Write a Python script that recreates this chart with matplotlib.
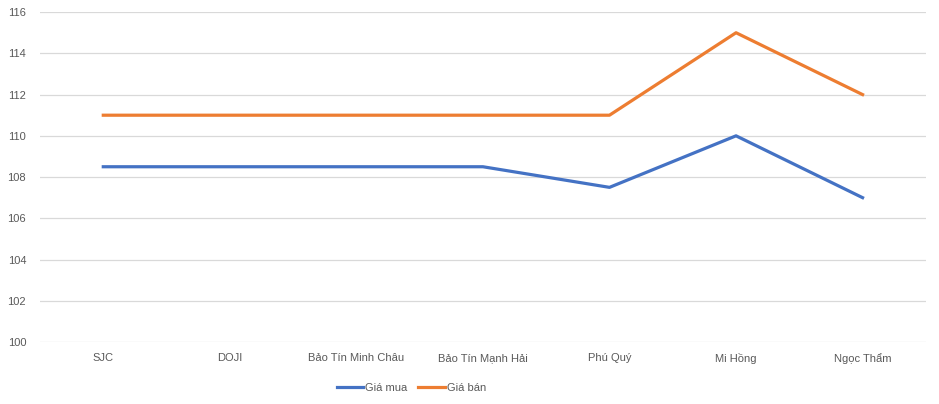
import matplotlib.pyplot as plt

# data
categories = ["SJC", "DOJI", "Bảo Tín Minh Châu", "Bảo Tín Mạnh Hải", "Phú Quý", "Mi Hồng", "Ngọc Thẩm"]
gia_mua = [108.5, 108.5, 108.5, 108.5, 107.5, 110, 107]
gia_ban = [111, 111, 111, 111, 111, 115, 112]
yticks = [100, 102, 104, 106, 108, 110, 112, 114, 116]

plt.rcParams['font.family'] = ['Liberation Sans', 'DejaVu Sans']

fig = plt.figure(figsize=(9.39, 4.04), dpi=100)
ax = fig.add_axes([0.0426, 0.1535, 0.9434, 0.8165])

x = list(range(len(categories)))
ax.plot(x, gia_mua, color='#4472C4', lw=2.3, label='Giá mua', solid_joinstyle='round')
ax.plot(x, gia_ban, color='#ED7D31', lw=2.3, label='Giá bán', solid_joinstyle='round')

ax.set_xlim(-0.5, len(categories) - 0.5)
ax.set_ylim(100, 116)
ax.set_yticks(yticks)
ax.set_xticks(x)
ax.set_xticklabels(categories)
ax.tick_params(axis='both', length=0, labelsize=8, labelcolor='#595959')
ax.tick_params(axis='x', pad=8)
ax.tick_params(axis='y', pad=10)
ax.grid(axis='y', color='#D9D9D9', lw=0.9)
ax.set_axisbelow(True)
for s in ax.spines.values():
    s.set_visible(False)

# legend sits a bit left of centre in the original
fig.legend(loc='center', bbox_to_anchor=(0.438, 0.04), ncol=2, frameon=False,
           fontsize=8, labelcolor='#595959', handlelength=2.4, handletextpad=0.15,
           columnspacing=1.0)

fig.savefig('out.png', dpi=100)
